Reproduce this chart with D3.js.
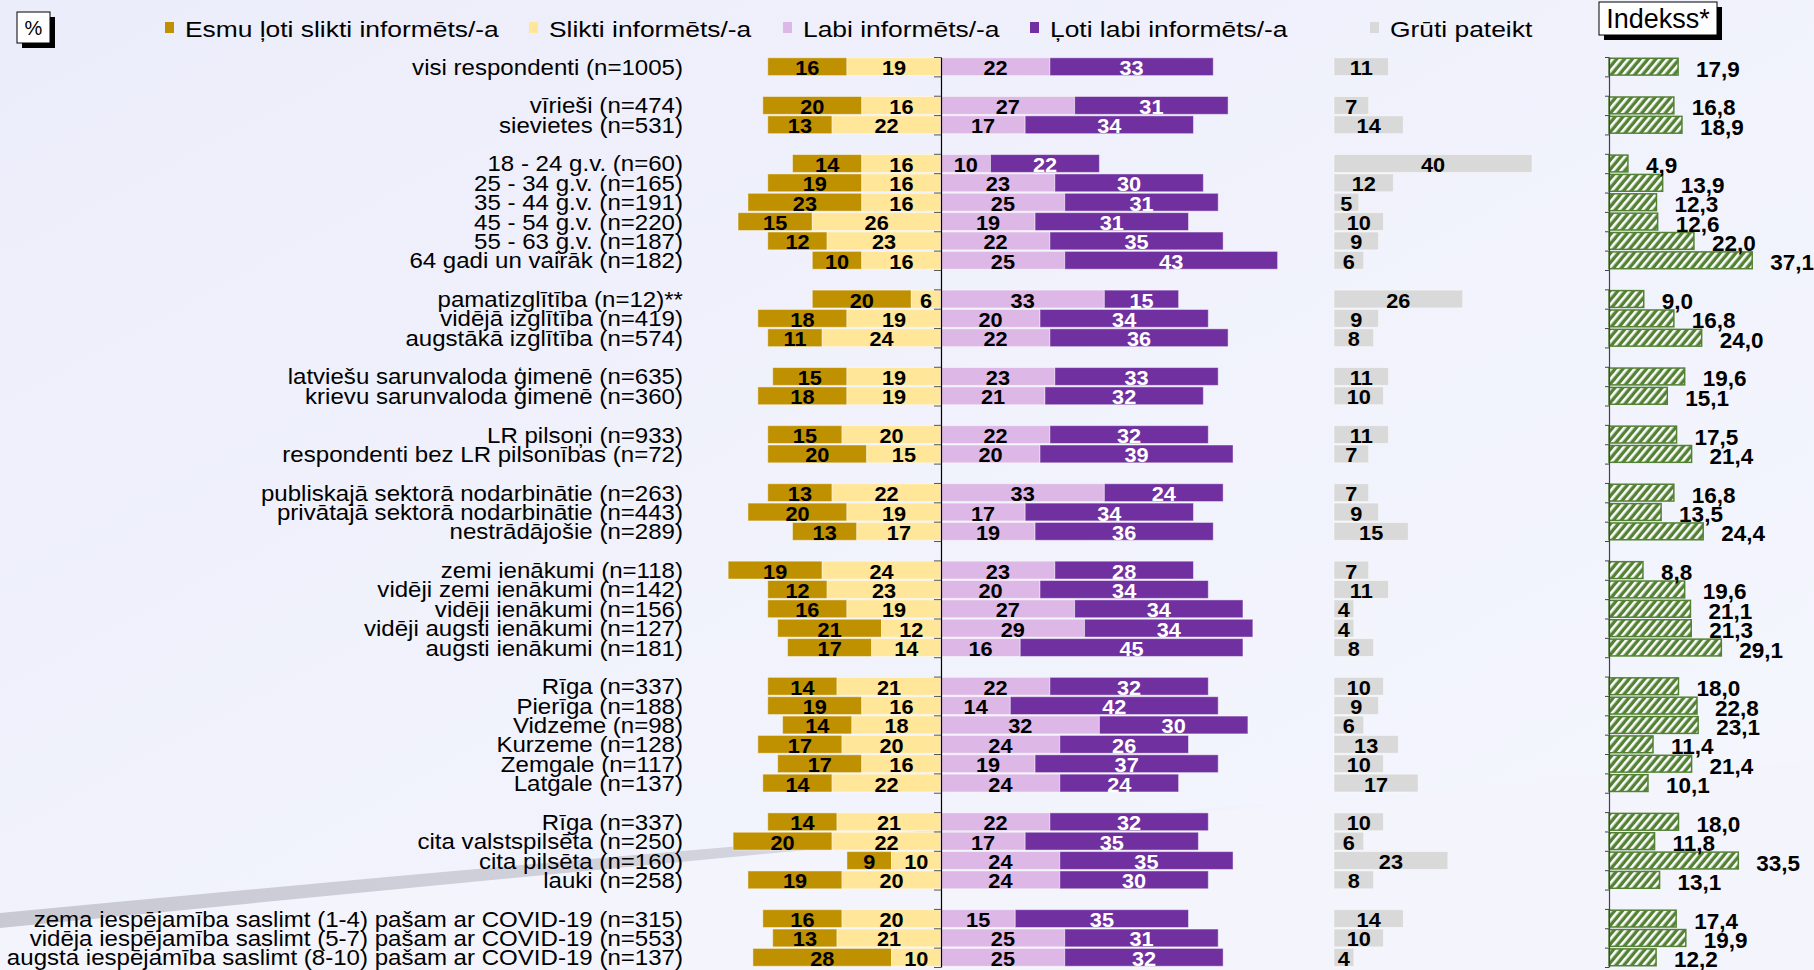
<!DOCTYPE html>
<html>
<head>
<meta charset="utf-8">
<script src="https://d3js.org/d3.v7.min.js"></script>
<style>
body { margin: 0; }
text { font-family: "Liberation Sans", Arial, sans-serif; }
</style>
</head>
<body>
<svg id="chart" width="1814" height="970"></svg>
<script>
// categories and values (%)
var categories = [
  "visi respondenti (n=1005)",
  "vīrieši (n=474)", "sievietes (n=531)",
  "18 - 24 g.v. (n=60)", "25 - 34 g.v. (n=165)", "35 - 44 g.v. (n=191)",
  "45 - 54 g.v. (n=220)", "55 - 63 g.v. (n=187)", "64 gadi un vairāk (n=182)",
  "pamatizglītība (n=12)**", "vidējā izglītība (n=419)", "augstākā izglītība (n=574)",
  "latviešu sarunvaloda ģimenē (n=635)", "krievu sarunvaloda ģimenē (n=360)",
  "LR pilsoņi (n=933)", "respondenti bez LR pilsonības (n=72)",
  "publiskajā sektorā nodarbinātie (n=263)", "privātajā sektorā nodarbinātie (n=443)", "nestrādājošie (n=289)",
  "zemi ienākumi (n=118)", "vidēji zemi ienākumi (n=142)", "vidēji ienākumi (n=156)",
  "vidēji augsti ienākumi (n=127)", "augsti ienākumi (n=181)",
  "Rīga (n=337)", "Pierīga (n=188)", "Vidzeme (n=98)", "Kurzeme (n=128)", "Zemgale (n=117)", "Latgale (n=137)",
  "Rīga (n=337)", "cita valstspilsēta (n=250)", "cita pilsēta (n=160)", "lauki (n=258)",
  "zema iespējamība saslimt (1-4) pašam ar COVID-19 (n=315)",
  "vidēja iespējamība saslimt (5-7) pašam ar COVID-19 (n=553)",
  "augsta iespējamība saslimt (8-10) pašam ar COVID-19 (n=137)"
];
var groupSizes = [1, 2, 6, 3, 2, 2, 3, 5, 6, 4, 3];

var veryBad  = [16, 20,13, 14,19,23,15,12,10, 20,18,11, 15,18, 15,20, 13,20,13, 19,12,16,21,17, 14,19,14,17,17,14, 14,20,9,19, 16,13,28];
var bad      = [19, 16,22, 16,16,16,26,23,16, 6,19,24, 19,19, 20,15, 22,19,17, 24,23,19,12,14, 21,16,18,20,16,22, 21,22,10,20, 20,21,10];
var good     = [22, 27,17, 10,23,25,19,22,25, 33,20,22, 23,21, 22,20, 33,17,19, 23,20,27,29,16, 22,14,32,24,19,24, 22,17,24,24, 15,25,25];
var veryGood = [33, 31,34, 22,30,31,31,35,43, 15,34,36, 33,32, 32,39, 24,34,36, 28,34,34,34,45, 32,42,30,26,37,24, 32,35,35,30, 35,31,32];
var hard     = [11, 7,14, 40,12,5,10,9,6, 26,9,8, 11,10, 11,7, 7,9,15, 7,11,4,4,8, 10,9,6,13,10,17, 10,6,23,8, 14,10,4];
var indekss  = [17.9, 16.8,18.9, 4.9,13.9,12.3,12.6,22.0,37.1, 9.0,16.8,24.0, 19.6,15.1, 17.5,21.4,
                16.8,13.5,24.4, 8.8,19.6,21.1,21.3,29.1, 18.0,22.8,23.1,11.4,21.4,10.1, 18.0,11.8,33.5,13.1,
                17.4,19.9,12.2];

var legendNames = ["Esmu ļoti slikti informēts/-a", "Slikti informēts/-a", "Labi informēts/-a",
                   "Ļoti labi informēts/-a", "Grūti pateikt"];
var colors = ["#BF9000", "#FFE699", "#DDB7E6", "#7030A0", "#D9D9D9"];

var svg = d3.select("#chart");
var defs = svg.append("defs");

// background
var bg = defs.append("linearGradient").attr("id", "bg")
    .attr("x1", "0").attr("y1", "0").attr("x2", "1").attr("y2", "1");
bg.append("stop").attr("offset", "0").attr("stop-color", "#ECEDFA");
bg.append("stop").attr("offset", "1").attr("stop-color", "#F5F7FE");
svg.append("rect").attr("width", 1814).attr("height", 970).attr("fill", "url(#bg)");

// swoosh in the lower left
var sw = defs.append("linearGradient").attr("id", "sw");
sw.append("stop").attr("offset", "0").attr("stop-color", "#C8C9D2");
sw.append("stop").attr("offset", "0.55").attr("stop-color", "#D2D3DC");
sw.append("stop").attr("offset", "1").attr("stop-color", "#EEF0FA").attr("stop-opacity", 0);
svg.append("path").attr("d", "M0,928 L0,970 L1814,970 L1814,760 Q900,830 0,928 Z").attr("fill", "#F3F4FC");
svg.append("path").attr("d", "M0,913 Q700,846 1340,798 L1340,800 Q700,859 0,928 Z").attr("fill", "url(#sw)");

// hatch pattern for index bars
var pat = defs.append("pattern").attr("id", "hatch")
    .attr("patternUnits", "userSpaceOnUse").attr("width", 6).attr("height", 6)
    .attr("patternTransform", "rotate(40)");
pat.append("rect").attr("width", 6).attr("height", 6).attr("fill", "#548235");
pat.append("rect").attr("x", 0).attr("width", 2.6).attr("height", 6).attr("fill", "#fff");

// rows with empty slots between groups
var slots = [];
var r = 0;
groupSizes.forEach(function(n, g) {
  for (var k = 0; k < n; k++) { slots.push(r); r++; }
  if (g < groupSizes.length - 1) slots.push(null);
});
var rows = categories.map(function(c, i) {
  return { name: c, slot: slots.indexOf(i), vb: veryBad[i], b: bad[i], g: good[i], vg: veryGood[i], h: hard[i], idx: indekss[i] };
});

var y = d3.scaleBand().domain(d3.range(slots.length)).range([57, 967]).paddingInner(0.08).paddingOuter(0.04);
var yLin = d3.scaleLinear().domain([0, slots.length]).range([57, 967]);
var x = d3.scaleLinear().domain([-40, 70]).range([743, 1287.5]);
var xg = d3.scaleLinear().domain([0, 40]).range([1334, 1532]);
var xi = d3.scaleLinear().domain([0, 40]).range([1609, 1763.4]);
var bh = y.bandwidth();
function yc(d) { return y(d.slot) + bh / 2; }

// category labels
svg.append("g").selectAll("text").data(rows).enter().append("text")
    .attr("transform", function(d) { return "translate(683," + (yc(d) + 8) + ") scale(1.12,1)"; })
    .attr("text-anchor", "end").attr("font-size", 21.5).attr("fill", "#000")
    .text(function(d) { return d.name; });

// stacked segments
var segs = [];
rows.forEach(function(d) {
  segs.push({ d: d, x0: -(d.vb + d.b), x1: -d.b, v: d.vb, c: colors[0], tc: "#000" });
  segs.push({ d: d, x0: -d.b, x1: 0, v: d.b, c: colors[1], tc: "#000" });
  segs.push({ d: d, x0: 0, x1: d.g, v: d.g, c: colors[2], tc: "#000" });
  segs.push({ d: d, x0: d.g, x1: d.g + d.vg, v: d.vg, c: colors[3], tc: "#fff" });
});
var gm = svg.append("g");
gm.selectAll("rect").data(segs).enter().append("rect")
    .attr("x", function(s) { return x(s.x0); })
    .attr("y", function(s) { return y(s.d.slot); })
    .attr("width", function(s) { return x(s.x1) - x(s.x0); })
    .attr("height", bh)
    .attr("fill", function(s) { return s.c; })
    .attr("stroke", "#fff").attr("stroke-opacity", 0.45).attr("stroke-width", 1);
gm.selectAll("text").data(segs).enter().append("text")
    .attr("transform", function(s) { return "translate(" + x((s.x0 + s.x1) / 2) + "," + (yc(s.d) + 8.5) + ") scale(1.06,1)"; })
    .attr("text-anchor", "middle").attr("font-size", 20.5).attr("font-weight", "bold")
    .attr("fill", function(s) { return s.tc; })
    .text(function(s) { return s.v; });

// center axis
svg.append("g").attr("transform", "translate(" + x(0) + ",0)")
    .call(d3.axisLeft(yLin).tickValues(d3.range(slots.length + 1)).tickFormat("").tickSize(7).tickSizeOuter(0))
    .call(function(g) {
      g.select(".domain").attr("stroke", "#000").attr("stroke-width", 1.2);
      g.selectAll(".tick line").attr("stroke", "#555");
    });

// grūti pateikt
var gh = svg.append("g");
gh.selectAll("rect").data(rows).enter().append("rect")
    .attr("x", xg(0)).attr("y", function(d) { return y(d.slot); })
    .attr("width", function(d) { return xg(d.h) - xg(0); }).attr("height", bh)
    .attr("fill", colors[4]).attr("stroke", "#fff").attr("stroke-opacity", 0.45);
gh.selectAll("text").data(rows).enter().append("text")
    .attr("transform", function(d) { return "translate(" + xg(d.h / 2) + "," + (yc(d) + 8.5) + ") scale(1.06,1)"; })
    .attr("text-anchor", "middle").attr("font-size", 20.5).attr("font-weight", "bold")
    .text(function(d) { return d.h; });

// index bars
var fmt = function(v) { return d3.format(".1f")(v).replace(".", ","); };
var gi = svg.append("g");
gi.selectAll("rect").data(rows).enter().append("rect")
    .attr("x", xi(0)).attr("y", function(d) { return y(d.slot) + 0.5; })
    .attr("width", function(d) { return xi(d.idx) - xi(0); }).attr("height", bh - 1)
    .attr("fill", "url(#hatch)").attr("stroke", "#548235").attr("stroke-width", 1.5);
gi.selectAll("text").data(rows).enter().append("text")
    .attr("x", function(d) { return xi(d.idx) + 18; })
    .attr("y", function(d) { return yc(d) + 10; })
    .attr("font-size", 22.5).attr("font-weight", "bold")
    .text(function(d) { return fmt(d.idx); });
svg.append("g").attr("transform", "translate(" + xi(0) + ",0)")
    .call(d3.axisLeft(yLin).tickValues(d3.range(slots.length + 1)).tickFormat("").tickSize(4).tickSizeOuter(0))
    .call(function(g) {
      g.select(".domain").attr("stroke", "#444").attr("stroke-width", 1.2);
      g.selectAll(".tick line").attr("stroke", "#444");
    });

// legend
var legendX = [165, 529, 783, 1030, 1370];
var lg = svg.append("g");
legendNames.forEach(function(n, i) {
  lg.append("rect").attr("x", legendX[i]).attr("y", 22).attr("width", 9).attr("height", 11).attr("fill", colors[i]);
  lg.append("text").attr("transform", "translate(" + (legendX[i] + 20) + ",37) scale(1.2,1)")
    .attr("font-size", 22).text(n);
});

// boxed labels
function box(x0, y0, w, h, label, fs, tx, ty) {
  svg.append("rect").attr("x", x0 + 5).attr("y", y0 + 5).attr("width", w).attr("height", h).attr("fill", "#000");
  svg.append("rect").attr("x", x0).attr("y", y0).attr("width", w).attr("height", h)
     .attr("fill", "#fff").attr("stroke", "#000").attr("stroke-width", 1);
  svg.append("text").attr("x", tx).attr("y", ty).attr("text-anchor", "middle").attr("font-size", fs).text(label);
}
box(17, 12, 33, 31, "%", 20, 33.5, 35);
box(1599, 2, 118, 33, "Indekss*", 27, 1658, 28);
</script>
</body>
</html>
